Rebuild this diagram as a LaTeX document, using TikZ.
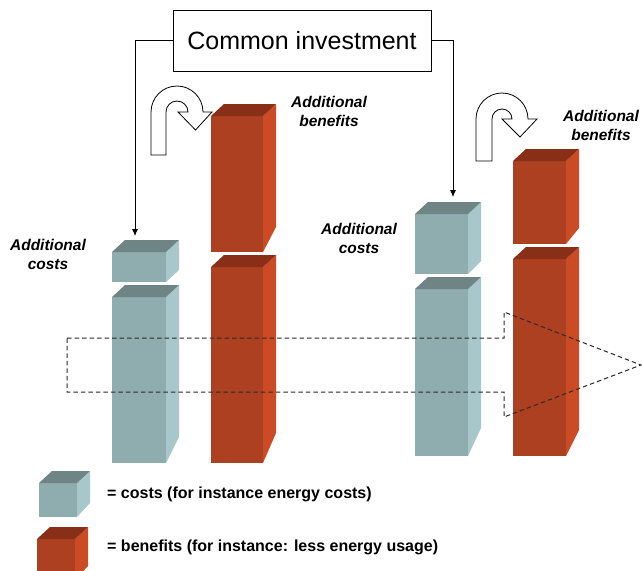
\documentclass[tikz,border=0pt]{standalone}
\usepackage{fontspec}
\setmainfont{Liberation Sans}
\usetikzlibrary{arrows.meta}
\definecolor{cfront}{HTML}{8FADAE}
\definecolor{cside}{HTML}{A8C7CA}
\definecolor{ctop}{HTML}{6F8485}
\definecolor{ofront}{HTML}{AD4020}
\definecolor{oside}{HTML}{CB4C24}
\definecolor{otop}{HTML}{8A2F17}
\definecolor{dashgray}{HTML}{2A2A2A}
% #1 x-left, #2 x-right, #3 y-top, #4 y-bottom, #5 side cut, #6 colour prefix
\newcommand\mkcube[6]{%
  \fill[#6front] (#1,#3) rectangle (#2,#4);
  \fill[#6side] (#2,#3) -- ({#2+13},{#3-12}) -- ({#2+13},{#4-#5}) -- (#2,#4) -- cycle;
  \fill[#6top] (#1,#3) -- ({#1+13},{#3-12}) -- ({#2+13},{#3-12}) -- (#2,#3) -- cycle;
}
% U-turn arrow: #1 cx, #2 cy, #3 bottom, #4 R, #5 r
\newcommand\uturn[5]{%
  \draw[uarrow] ({#1-#4},#3) -- ({#1-#4},#2) arc[start angle=180,end angle=360,radius=#4]
    -- ({#1+#4+9},#2) -- ({#1+(#4+#5)/2},{#2+18}) -- ({#1+#5-10},#2) -- ({#1+#5},#2)
    arc[start angle=360,end angle=180,radius=#5] -- ({#1-#5},#3) -- cycle;
}
\tikzset{
  uarrow/.style={fill=white,draw=black,line width=0.8pt,line join=miter},
  lbl/.style={font=\fontsize{15.5}{19}\selectfont\bfseries\itshape,align=center,inner sep=0pt},
  legtxt/.style={font=\fontsize{16}{19}\selectfont\bfseries,anchor=west,inner sep=0pt},
  conn/.style={draw=black,line width=0.8pt,-{Latex[length=7pt,width=6pt]}}
}
\begin{document}
\begin{tikzpicture}[x=1pt,y=-1pt]
\useasboundingbox (0,0) rectangle (642,570);
\fill[white] (0,0) rectangle (642,570);
% left group
\mkcube{112}{166}{297}{463}{26}{c}
\mkcube{112}{166}{252}{282}{12}{c}
\mkcube{211}{263}{267}{463}{30}{o}
\mkcube{211}{263}{116}{252}{25}{o}
% right group
\mkcube{415}{468}{289}{456}{28}{c}
\mkcube{415}{468}{214}{274}{13}{c}
\mkcube{513}{566}{259}{456}{26}{o}
\mkcube{513}{566}{161}{244}{16}{o}
% legend cubes
\mkcube{39}{77}{483}{517}{14}{c}
\mkcube{37}{75}{539}{580}{14}{o}
% U-turn arrows
\uturn{177}{112}{155}{26}{11}
\uturn{502}{119}{161}{26}{10}
% common investment
\node[draw=black,line width=0.8pt,minimum width=258pt,minimum height=61pt,inner sep=0pt,
      font=\fontsize{25}{30}\selectfont] (ci) at (302,40.5) {Common investment};
\coordinate (tgtL) at (135,236);
\coordinate (tgtR) at (453,197);
\draw[conn] (ci.west) -| (tgtL);
\draw[conn] (ci.east) -| (tgtR);
% labels
\node[lbl] (lbB1) at (329,111) {Additional\\benefits};
\node[lbl] (lbB2) at (601,125) {Additional\\benefits};
\node[lbl] (lbC1) at (48,254) {Additional\\costs};
\node[lbl] (lbC2) at (359,238) {Additional\\costs};
% legend text
\node[legtxt] (lg1) at (107,494) {= costs (for instance energy costs)};
\node[legtxt] (lg2) at (107,547) {= benefits (for instance: less energy usage)};
% dashed big arrow
\draw[dashgray,line width=1pt,dash pattern=on 4.5pt off 3pt]
  (67,338) -- (504,338) -- (504,312) -- (641,365) -- (504,417) -- (504,392) -- (67,392) -- cycle;
\end{tikzpicture}
\end{document}
